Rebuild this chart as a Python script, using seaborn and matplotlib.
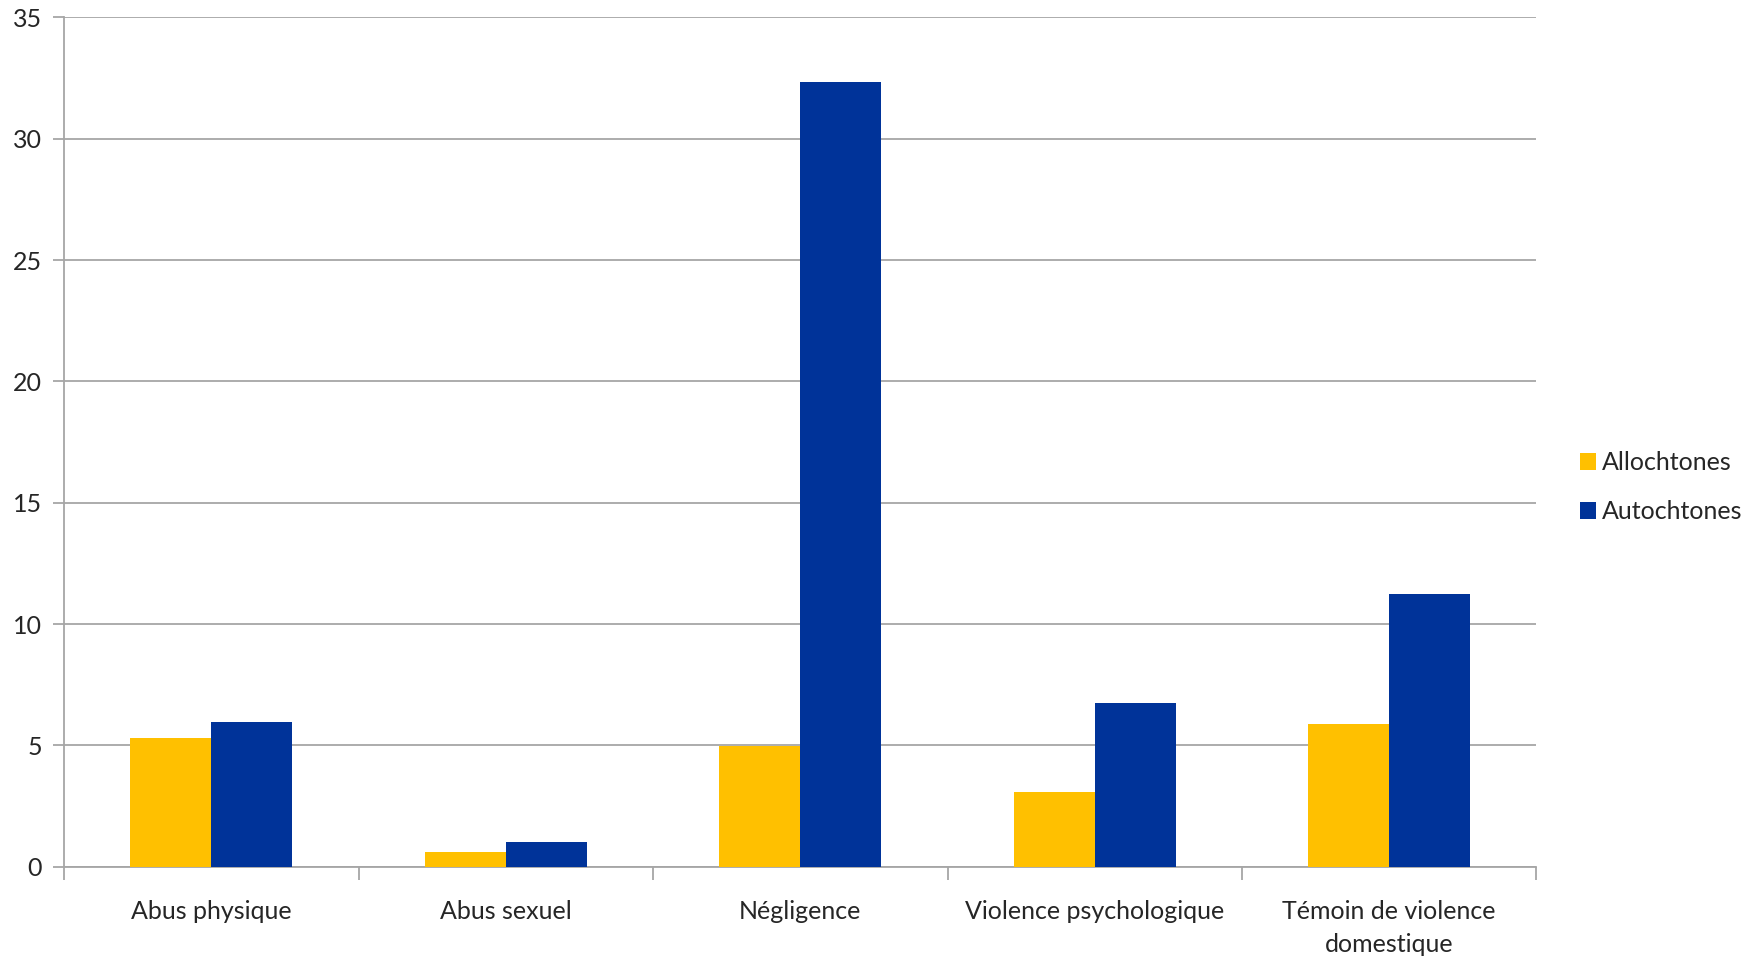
import numpy as np
import pandas as pd
import seaborn as sns
import matplotlib.pyplot as plt
from matplotlib.patches import Patch

categories = ['Abus physique', 'Abus sexuel', 'Négligence',
              'Violence psychologique', 'Témoin de violence\ndomestique']
allochtones = [5.32, 0.59, 4.98, 3.08, 5.87]
autochtones = [5.98, 1.00, 32.33, 6.76, 11.24]
series = ['Allochtones', 'Autochtones']
colors = ['#FFC000', '#003399']

df = pd.DataFrame({
    'Categorie': categories * 2,
    'Groupe': [series[0]] * len(categories) + [series[1]] * len(categories),
    'Valeur': allochtones + autochtones,
})

sns.set_style('white')
plt.rcParams['font.family'] = ['Lato', 'DejaVu Sans']

fig = plt.figure(figsize=(17.46, 9.56), dpi=100)
ax = fig.add_axes([0.0367, 0.0934, 0.8433, 0.8883])

sns.barplot(data=df, x='Categorie', y='Valeur', hue='Groupe',
            palette=colors, width=0.55, saturation=1, ax=ax,
            legend=False, zorder=3, linewidth=0)

ax.set_xlim(-0.5, len(categories) - 0.5)
ax.set_ylim(0, 35)
ax.set_yticks(np.arange(0, 36, 5))
ax.yaxis.grid(True, color='#a6a6a6', linewidth=1.3, zorder=0)
ax.set_axisbelow(True)

for side in ['top', 'right']:
    ax.spines[side].set_visible(False)
for side in ['left', 'bottom']:
    ax.spines[side].set_color('#a6a6a6')
    ax.spines[side].set_linewidth(1.3)

ax.set_xticks(np.arange(-0.5, len(categories), 1.0), minor=True)
ax.tick_params(axis='x', which='major', length=0, pad=24, labelsize=18)
ax.tick_params(axis='x', which='minor', length=9, width=1.3, color='#a6a6a6',
               direction='out', bottom=True)
ax.tick_params(axis='y', length=8, width=1.3, color='#a6a6a6', direction='out',
               left=True, labelsize=18, pad=8)
for lbl in ax.get_xticklabels():
    lbl.set_linespacing(1.5)
ax.set_xlabel('')
ax.set_ylabel('')

handles = [Patch(facecolor=c, edgecolor='none') for c in colors]
ax.legend(handles, series, loc='center left', bbox_to_anchor=(1.014, 0.447),
          frameon=False, fontsize=18, handlelength=0.65, handleheight=0.65,
          handletextpad=0.25, labelspacing=1.05)

plt.savefig('out.png', dpi=100)
